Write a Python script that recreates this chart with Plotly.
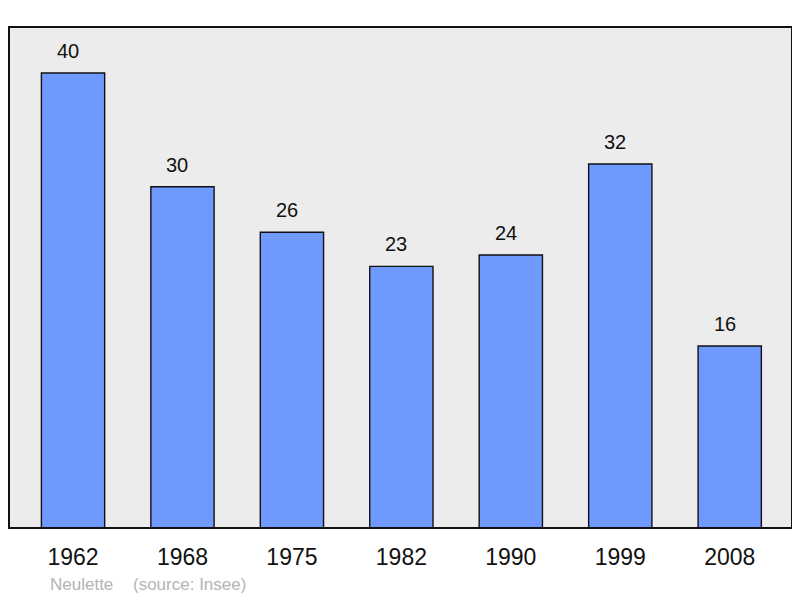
import plotly.graph_objects as go

years = ["1962", "1968", "1975", "1982", "1990", "1999", "2008"]
population = [40, 30, 26, 23, 24, 32, 16]
commune = "Neulette"
source = "(source: Insee)"

idx = list(range(len(years)))

fig = go.Figure()
fig.add_trace(go.Bar(
    x=idx, y=population, width=0.578,
    marker=dict(color="#7099ff", line=dict(color="#111111", width=1.4)),
    hoverinfo="skip",
))

for i, v in zip(idx, population):
    fig.add_annotation(x=i, y=v, text=str(v), showarrow=False,
                       yanchor="bottom", yshift=9, xshift=-5,
                       font=dict(family="Liberation Sans, Arial", size=20, color="#111111"))

fig.add_shape(type="rect", xref="paper", yref="paper", x0=0, x1=1, y0=0, y1=1,
              line=dict(color="#111111", width=2), fillcolor="rgba(0,0,0,0)", layer="above")

fig.add_annotation(xref="paper", yref="paper", x=0.050, y=-0.112, xanchor="left", yanchor="middle",
                   text=commune, showarrow=False,
                   font=dict(family="Liberation Sans, Arial", size=17, color="#b4b4b4"))
fig.add_annotation(xref="paper", yref="paper", x=0.156, y=-0.112, xanchor="left", yanchor="middle",
                   text=source, showarrow=False,
                   font=dict(family="Liberation Sans, Arial", size=17, color="#b4b4b4"))

fig.update_layout(
    width=792, height=590,
    margin=dict(l=1, r=8, t=19, b=70),
    paper_bgcolor="white", plot_bgcolor="#ececec",
    showlegend=False,
    xaxis=dict(range=[-0.585, 6.569], tickmode="array", tickvals=idx, ticktext=years,
               showgrid=False, zeroline=False, showline=False,
               ticks="outside", ticklen=8, tickcolor="rgba(0,0,0,0)",
               tickfont=dict(family="Liberation Sans, Arial", size=23, color="#111111")),
    yaxis=dict(range=[0, 44.04], showgrid=False, zeroline=False, showline=False,
               showticklabels=False, ticks=""),
)

fig.write_html("out.html")
